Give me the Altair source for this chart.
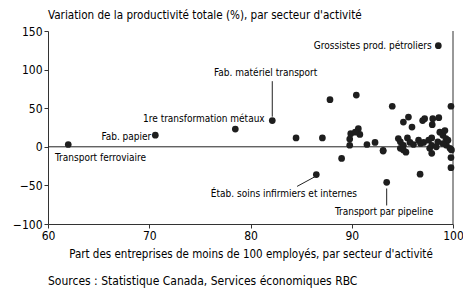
import altair as alt
import pandas as pd

FONT = "DejaVu Sans Condensed, Liberation Sans Narrow, sans-serif"

# Sector points: share of firms < 100 employees (%), productivity change (%)
pme_share = [62.0, 70.6, 78.5, 82.15, 98.55, 86.5, 93.45,
             84.5, 87.1, 87.85, 90.45, 89.0, 89.8, 89.8, 89.9, 90.65, 90.8, 90.35,
             91.5, 92.3, 93.1, 94.0, 95.35, 95.1, 95.6, 95.95, 97.0, 97.2, 98.0,
             97.95, 98.6, 99.8, 96.75, 99.8, 99.8, 94.6, 94.8, 94.8, 95.5, 95.75,
             96.6, 96.8, 97.1, 97.9, 97.9, 97.9, 98.35, 98.7, 99.0, 99.2, 99.3,
             99.35, 99.5, 99.7, 99.85, 99.0, 98.5, 97.6, 97.7, 96.1, 95.1, 95.1, 93.1]
productivity = [3, 15, 23, 34, 131, -36, -46,
                11.5, 11.5, 61, 67, -15, 2, 10, 17, 23.5, 16, 19,
                3, 5.6, -5.5, 52.5, -7, 32, 38.5, 25.6, 34, 36.4, 36.4,
                28.7, 37.7, 52.5, -35.4, -27, -14, 10.7, 6.4, -2, 11.5, 5.6,
                8.6, 4.3, 5.6, 11.5, 2, -8.5, 0, 19, 15, 21, 10.7,
                2, 8.6, -2, -4, 4.3, 6.4, 8.6, -2, 3, 2, -4, -4.5]

x_ticks = [60, 70, 80, 90, 100]
y_ticks = [-100, -50, 0, 50, 100, 150]

# Annotations
label_text = ["Grossistes prod. pétroliers", "Fab. matériel transport",
              "1re transformation métaux", "Fab. papier", "Transport ferroviaire",
              "Étab. soins infirmiers et internes", "Transport par pipeline"]
label_x = [97.9, 81.5, 81.4, 70.2, 60.7, 83.3, 93.2]
label_y = [131, 95.8, 35.5, 13, -15, -61, -84.6]
label_align = ["right", "center", "right", "right", "left", "center", "center"]

leader_x = [82.15, 84.6, 93.45]
leader_y = [39, -51.3, -54]
leader_x2 = [82.15, 86.4, 93.45]
leader_y2 = [85, -38.5, -76]

pts = pd.DataFrame({"x": pme_share, "y": productivity})
labels = pd.DataFrame({"t": label_text, "x": label_x, "y": label_y, "a": label_align})
leaders = pd.DataFrame({"x": leader_x, "y": leader_y, "x2": leader_x2, "y2": leader_y2})

xscale = alt.Scale(domain=[60, 100], nice=False, zero=False)
yscale = alt.Scale(domain=[-100, 150], nice=False)

xaxis = alt.Axis(values=x_ticks, grid=False, tickSize=4,
                 labelFont=FONT, labelFontSize=12, labelColor="black",
                 labelOverlap=False, labelFlush=False,
                 domainColor="#333", tickColor="#333", labelPadding=2,
                 title="Part des entreprises de moins de 100 employés, par secteur d'activité",
                 titleFont=FONT, titleFontSize=11.5, titleFontWeight="normal",
                 titleColor="black", titlePadding=7)
yaxis = alt.Axis(values=y_ticks, grid=False, tickSize=4,
                 labelFont=FONT, labelFontSize=12, labelColor="black",
                 labelOverlap=False, labelFlush=False,
                 domainColor="#333", tickColor="#333", labelPadding=2, title=None)


def X(field="x"):
    return alt.X(f"{field}:Q", scale=xscale, axis=xaxis)


def Y(field="y"):
    return alt.Y(f"{field}:Q", scale=yscale, axis=yaxis)


points = alt.Chart(pts).mark_circle(size=45, color="#1e1e1e", opacity=1).encode(x=X(), y=Y())

zero = alt.Chart(pd.DataFrame({"y": [0]})).mark_rule(color="#222", strokeWidth=1).encode(y=Y())
right = alt.Chart(pd.DataFrame({"x": [100]})).mark_rule(color="#333", strokeWidth=1).encode(x=X())

lead = alt.Chart(leaders).mark_rule(color="#222", strokeWidth=1).encode(
    x=X(), y=Y(), x2="x2:Q", y2="y2:Q")

texts = []
for al in ["left", "center", "right"]:
    texts.append(alt.Chart(labels).transform_filter(alt.datum.a == al).mark_text(
        align=al, baseline="middle", font=FONT, fontSize=10, color="black"
    ).encode(x=X(), y=Y(), text="t:N"))

source = alt.Chart(pd.DataFrame({"t": ["Sources : Statistique Canada, Services économiques RBC"]})).mark_text(
    align="left", baseline="middle", font=FONT, fontSize=12, color="black"
).encode(x=alt.value(0), y=alt.value(250), text="t:N")

chart = alt.layer(zero, right, lead, points, *texts, source).properties(
    width=405, height=193,
    padding={"left": 40, "top": 23, "right": 10, "bottom": 70},
    autosize=alt.AutoSizeParams(type="none"),
    title=alt.TitleParams("Variation de la productivité totale (%), par secteur d'activité",
                          anchor="start", frame="group", font=FONT, fontSize=11.6,
                          fontWeight="normal", color="black", offset=3),
).configure_view(stroke=None)

chart.save("out.html", embed_options={"renderer": "svg", "actions": False})
